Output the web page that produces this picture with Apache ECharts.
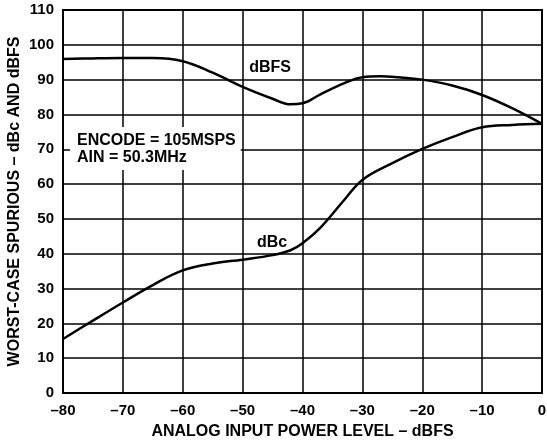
<!DOCTYPE html>
<html><head><meta charset="utf-8">
<script src="https://cdn.jsdelivr.net/npm/echarts@6/dist/echarts.min.js"></script>
<style>html,body{margin:0;padding:0;background:#fff}#c{width:547px;height:446px}</style>
</head><body><div id="c"></div>
<script>
const xTicks = [-80,-70,-60,-50,-40,-30,-20,-10,0];
const dBFS = [[-80,95.9],[-75,96.1],[-70,96.2],[-65,96.2],[-60,95.3],[-55,92],[-50,87.9],[-45,84.5],[-42,82.9],[-40,83.2],[-37,85.8],[-33,89],[-30,90.7],[-27,91],[-24,90.7],[-20,90],[-15,88.3],[-10,85.6],[-5,81.8],[0,77.3]];
const dBc = [[-80,15.5],[-75,20.8],[-70,26],[-65,31],[-60,35.2],[-55,37.2],[-50,38.3],[-45,39.6],[-42,41],[-40,43],[-37,47.5],[-33,55.5],[-30,61.2],[-25,66],[-20,70.1],[-15,73.5],[-10,76.3],[-5,77],[0,77.3]];
const labels = [{name:'dBFS',x:-48.9,y:93.6},{name:'dBc',x:-47.6,y:43.2}];
const noteLines = ['ENCODE = 105MSPS','AIN = 50.3MHz'];
const FONT = '"Liberation Sans", Arial, sans-serif';
const chart = echarts.init(document.getElementById('c'));
chart.setOption({
  animation:false,
  grid:{left:63,right:5,top:10,bottom:53,show:true,borderColor:'#000',borderWidth:2,
    containLabel:false,outerBoundsMode:'none'},
  xAxis:{type:'value',min:-80,max:0,interval:10,
    axisLine:{show:false},axisTick:{show:false},
    splitLine:{show:true,lineStyle:{color:'#000',width:1.5}},
    axisLabel:{color:'#000',fontFamily:FONT,fontWeight:'bold',fontSize:15,margin:10,
      formatter:v=>v<0?'\u2013'+(-v):String(v)},
    name:'ANALOG INPUT POWER LEVEL \u2013 dBFS',nameLocation:'middle',nameGap:31,nameMoveOverlap:false,
    nameTextStyle:{color:'#000',fontFamily:FONT,fontWeight:'bold',fontSize:16}},
  yAxis:{type:'value',min:0,max:110,interval:10,
    axisLine:{show:false},axisTick:{show:false},
    splitLine:{show:true,lineStyle:{color:'#000',width:1.5}},
    axisLabel:{color:'#000',fontFamily:FONT,fontWeight:'bold',fontSize:15,margin:9},
    name:'WORST-CASE SPURIOUS \u2013 dBc AND dBFS',nameLocation:'middle',nameGap:40,nameMoveOverlap:false,
    nameTextStyle:{color:'#000',fontFamily:FONT,fontWeight:'bold',fontSize:16}},
  series:[
    {type:'line',data:dBFS,smooth:0.4,symbol:'none',lineStyle:{color:'#000',width:2.5}},
    {type:'line',data:dBc,smooth:0.4,symbol:'none',lineStyle:{color:'#000',width:2.5}}
  ]
});
const g = labels.map(l=>{
  const p = chart.convertToPixel({gridIndex:0},[l.x,l.y]);
  return {type:'text',x:p[0],y:p[1],z:100,
    style:{text:l.name,fill:'#000',font:'bold 16px "Liberation Sans", Arial, sans-serif',verticalAlign:'middle',align:'left'}};
});
g.push({type:'text',left:70,top:127,z:100,
    style:{text:noteLines.join('\n'),fill:'#000',font:'bold 16px "Liberation Sans", Arial, sans-serif',lineHeight:17,
      backgroundColor:'#fff',padding:[5,5,4,7]}});
chart.setOption({graphic:g});
</script></body></html>
